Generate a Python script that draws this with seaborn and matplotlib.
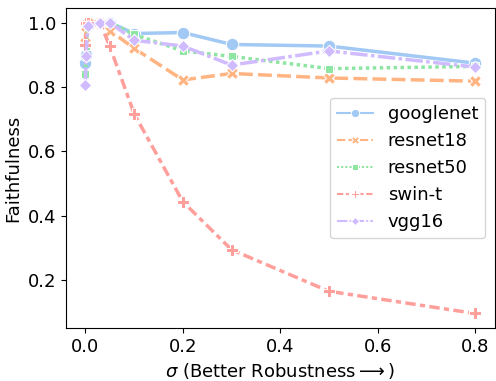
import matplotlib
matplotlib.use("Agg")
import matplotlib.pyplot as plt
import seaborn as sns
import pandas as pd

sigma = [0.0, 0.001, 0.005, 0.03, 0.05, 0.1, 0.2, 0.3, 0.5, 0.8]
models = ["googlenet", "resnet18", "resnet50", "swin-t", "vgg16"]
googlenet = [0.876, 0.90, 0.99, 1.0, 1.0, 0.966, 0.969, 0.932, 0.927, 0.874]
resnet18 = [0.935, 0.99, 1.0, 1.0, 0.975, 0.92, 0.822, 0.842, 0.828, 0.818]
resnet50 = [0.84, 0.926, 0.99, 1.0, 1.0, 0.963, 0.912, 0.895, 0.857, 0.864]
swin_t = [0.93, 1.0, 1.0, 1.0, 0.926, 0.717, 0.444, 0.295, 0.166, 0.097]
vgg16 = [0.805, 0.895, 0.99, 1.0, 1.0, 0.945, 0.927, 0.868, 0.912, 0.862]

series = [googlenet, resnet18, resnet50, swin_t, vgg16]
rows = []
for m, vals in zip(models, series):
    for s, v in zip(sigma, vals):
        rows.append({"sigma": s, "Faithfulness": v, "model": m})
df = pd.DataFrame(rows)

plt.rcParams["font.size"] = 13
fig, ax = plt.subplots(figsize=(4.96, 3.81), dpi=100)
fig.subplots_adjust(left=0.133, right=0.997, top=0.979, bottom=0.139)

sns.lineplot(data=df, x="sigma", y="Faithfulness", hue="model", style="model",
             hue_order=models, style_order=models, markers=True,
             palette="pastel", linewidth=2.5, markersize=9, ax=ax)

ax.set_xlabel(r"$\sigma$ (Better Robustness$\longrightarrow$)", fontsize=13)
ax.set_ylabel("Faithfulness", fontsize=13)
ax.tick_params(labelsize=13)
ax.set_xticks([0.0, 0.2, 0.4, 0.6, 0.8])
ax.set_yticks([0.2, 0.4, 0.6, 0.8, 1.0])

old = ax.get_legend()
handles = old.legend_handles
labels = [t.get_text() for t in old.get_texts()]
old.remove()
for h in handles:
    h.set_linewidth(1.5)
    h.set_markersize(6)
ax.legend(handles, labels, loc="center right", fontsize=13)

fig.savefig("out.png", dpi=100)
